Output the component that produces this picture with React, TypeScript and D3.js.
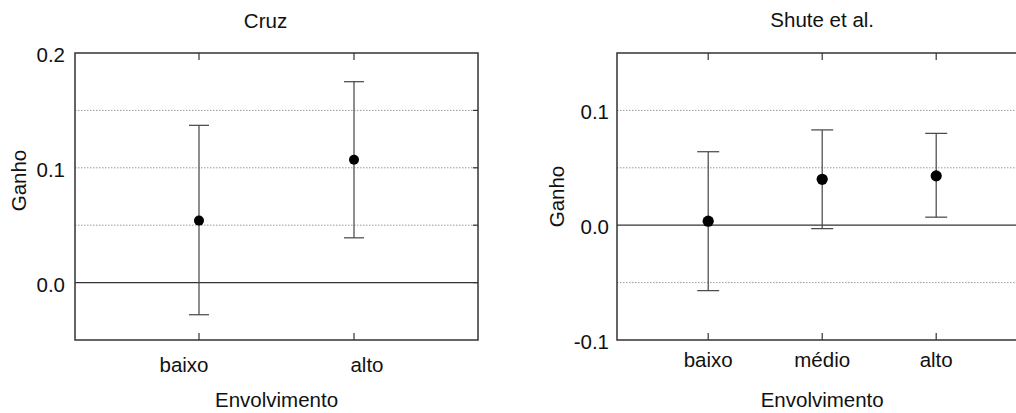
import React from "react";
import * as d3 from "d3";

// ---- Data ----
const cruzCategories = ["baixo", "alto"];
const cruzMean = [0.054, 0.107];
const cruzLower = [-0.028, 0.039];
const cruzUpper = [0.137, 0.175];
const cruzYTicks = [0, 0.1, 0.2];
const cruzGrid = [0.05, 0.1, 0.15];

const shuteCategories = ["baixo", "médio", "alto"];
const shuteMean = [0.0035, 0.04, 0.043];
const shuteLower = [-0.057, -0.003, 0.007];
const shuteUpper = [0.064, 0.083, 0.08];
const shuteYTicks = [-0.1, 0, 0.1];
const shuteGrid = [-0.05, 0.05, 0.1];

const FONT = "'Liberation Sans', Arial, sans-serif";
const FS = 20.5;
const INK = "#111";

type PanelProps = {
  title: string;
  categories: string[];
  mean: number[];
  lower: number[];
  upper: number[];
  yDomain: [number, number];
  yTicks: number[];
  grid: number[];
  left: number;
  step: number;
  top: number;
  bottom: number;
  capW: number;
  r: number;
  titleNudge: number;
  yTitleX: number;
  yTitleNudge: number;
  labelNudge: number[];
  catBaseline: number;
  titleBaseline: number;
  tickGap: number;
};

function Panel(p: PanelProps) {
  const n = p.categories.length;
  const x = d3
    .scaleLinear()
    .domain([0.2, n + 0.8])
    .range([p.left, p.left + p.step * (n + 0.6)]);
  const y = d3.scaleLinear().domain(p.yDomain).range([p.bottom, p.top]);
  const [x0, x1] = x.range();
  const cx = (x0 + x1) / 2;
  const fmt = (v: number) => (v < 0 ? "-" : "") + d3.format(".1f")(Math.abs(v));
  return (
    <g>
      {/* grid */}
      {p.grid.map((g) => (
        <line
          key={"g" + g}
          x1={x0}
          x2={x1}
          y1={y(g)}
          y2={y(g)}
          stroke="#9a9a9a"
          strokeWidth={1}
          strokeDasharray="1.5,1.5"
        />
      ))}
      {/* zero line */}
      <line x1={x0} x2={x1} y1={y(0)} y2={y(0)} stroke="#333" strokeWidth={1.2} />
      {/* right-side ticks */}
      {[...p.grid, 0].map((g) => (
        <line key={"rt" + g} x1={x1 - 5} x2={x1} y1={y(g)} y2={y(g)} stroke="#333" strokeWidth={1.2} />
      ))}
      {/* category ticks */}
      {p.categories.map((c, i) => (
        <g key={"ct" + c}>
          <line x1={x(i + 1)} x2={x(i + 1)} y1={p.top} y2={p.top + 7} stroke="#333" strokeWidth={1.2} />
          <line x1={x(i + 1)} x2={x(i + 1)} y1={p.bottom} y2={p.bottom - 7} stroke="#333" strokeWidth={1.2} />
        </g>
      ))}
      {/* frame */}
      <rect x={x0} y={p.top} width={x1 - x0} height={p.bottom - p.top} fill="none" stroke="#333" strokeWidth={1.5} />
      {/* error bars */}
      {p.categories.map((c, i) => {
        const xi = x(i + 1);
        return (
          <g key={"e" + c} stroke="#444" strokeWidth={1.2}>
            <line x1={xi} x2={xi} y1={y(p.lower[i])} y2={y(p.upper[i])} />
            <line x1={xi - p.capW / 2} x2={xi + p.capW / 2} y1={y(p.upper[i])} y2={y(p.upper[i])} />
            <line x1={xi - p.capW / 2} x2={xi + p.capW / 2} y1={y(p.lower[i])} y2={y(p.lower[i])} />
          </g>
        );
      })}
      {p.categories.map((c, i) => (
        <circle key={"pt" + c} cx={x(i + 1)} cy={y(p.mean[i])} r={p.r} fill="#000" />
      ))}
      {/* y tick labels */}
      {p.yTicks.map((t) => (
        <text
          key={"yl" + t}
          x={x0 - p.tickGap}
          y={y(t) + 1.5}
          textAnchor="end"
          dominantBaseline="central"
          fontFamily={FONT}
          fontSize={FS}
          fill={INK}
        >
          {fmt(t)}
        </text>
      ))}
      {/* category labels */}
      {p.categories.map((c, i) => (
        <text
          key={"cl" + c}
          x={x(i + 1) + p.labelNudge[i]}
          y={p.catBaseline}
          textAnchor="middle"
          fontFamily={FONT}
          fontSize={FS}
          fill={INK}
        >
          {c}
        </text>
      ))}
      {/* title */}
      <text x={cx + p.titleNudge} y={p.titleBaseline} textAnchor="middle" fontFamily={FONT} fontSize={FS} fill={INK}>
        {p.title}
      </text>
      {/* x axis title */}
      <text x={cx} y={407} textAnchor="middle" fontFamily={FONT} fontSize={FS} fill={INK}>
        Envolvimento
      </text>
      {/* y axis title */}
      <text
        transform={`translate(${p.yTitleX},${(p.top + p.bottom) / 2 + p.yTitleNudge}) rotate(-90)`}
        textAnchor="middle"
        dominantBaseline="central"
        fontFamily={FONT}
        fontSize={FS}
        fill={INK}
      >
        Ganho
      </text>
    </g>
  );
}

export default function App() {
  return (
    <svg
      width={1016}
      height={413}
      style={{ position: "absolute", left: 0, top: 0, display: "block", background: "#fff" }}
    >
      <rect width={1016} height={413} fill="#fff" />
      <Panel
        title="Cruz"
        categories={cruzCategories}
        mean={cruzMean}
        lower={cruzLower}
        upper={cruzUpper}
        yDomain={[-0.05, 0.2]}
        yTicks={cruzYTicks}
        grid={cruzGrid}
        left={75}
        step={155}
        top={53}
        bottom={340}
        capW={20}
        r={5}
        titleNudge={-11}
        yTitleX={18}
        yTitleNudge={-16}
        labelNudge={[-15, 13]}
        catBaseline={372}
        titleBaseline={28}
        tickGap={10}
      />
      <Panel
        title="Shute et al."
        categories={shuteCategories}
        mean={shuteMean}
        lower={shuteLower}
        upper={shuteUpper}
        yDomain={[-0.1, 0.15]}
        yTicks={shuteYTicks}
        grid={shuteGrid}
        left={617}
        step={114}
        top={53}
        bottom={340}
        capW={22}
        r={5.6}
        titleNudge={0}
        yTitleX={556}
        yTitleNudge={0}
        labelNudge={[0, 0, 0]}
        catBaseline={367}
        titleBaseline={27}
        tickGap={8}
      />
    </svg>
  );
}
